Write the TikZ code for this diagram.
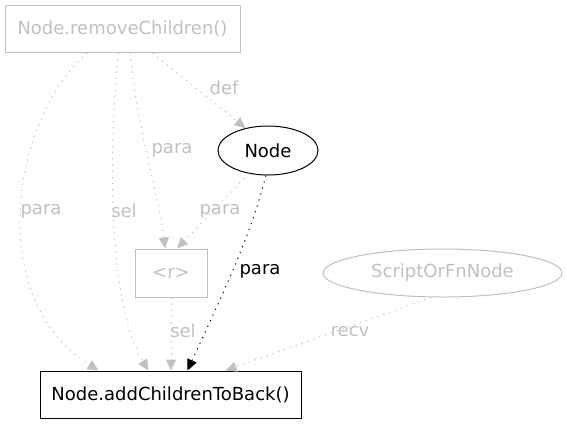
\documentclass[tikz,border=0pt]{standalone}
\usepackage{fontspec}
\setmainfont{DejaVu Sans}
\usetikzlibrary{arrows.meta,shapes.geometric}
\definecolor{lg}{HTML}{C0C0C0}
\tikzset{
  x=1pt,y=-1pt,
  every node/.style={font=\fontsize{18}{20}\selectfont},
  graybox/.style={draw=lg,text=lg,rectangle,line width=1pt},
  blackbox/.style={draw=black,rectangle,line width=1pt},
  edg/.style={dash pattern=on 1.2pt off 5pt,line width=1pt,-{Triangle[length=11pt,width=10pt]}},
  gedge/.style={edg,draw=lg},
  bedge/.style={edg,draw=black},
  glab/.style={text=lg,inner sep=1pt},
  blab/.style={text=black,inner sep=1pt}
}
\begin{document}
\begin{tikzpicture}
\useasboundingbox (0,0) rectangle (567,424);
\node[graybox,minimum width=235,minimum height=47] (rc) at (122.5,29) {Node.removeChildren()};
\node[draw=black,ellipse,line width=1pt,minimum width=100,minimum height=49,inner sep=0pt] (nd) at (268,150.5) {Node};
\node[graybox,minimum width=72,minimum height=48] (r) at (171,273) {<r>};
\node[blackbox,minimum width=261,minimum height=47] (ac) at (170.5,394.5) {Node.addChildrenToBack()};
\node[draw=lg,text=lg,ellipse,line width=1pt,minimum width=239,minimum height=48,inner sep=0pt] (sf) at (442.5,273) {ScriptOrFnNode};
% edges
\draw[gedge] ([xshift=30]rc.south) -- (nd.135);
\node[glab] (l1) at (224,88) {def};
\draw[gedge] ([xshift=8]rc.south) .. controls (135,120) and (160,200) .. ([xshift=-6]r.north);
\node[glab] (l2) at (172,150) {para};
\draw[gedge] ([xshift=-35]rc.south) .. controls (10,120) and (-15,300) .. ([xshift=-72]ac.north);
\node[glab] (l3) at (41,211) {para};
\draw[gedge] ([xshift=-4]rc.south) .. controls (110,130) and (105,300) .. ([xshift=-22]ac.north);
\node[glab] (l4) at (124,211) {sel};
\draw[gedge] (nd.-130) -- ([xshift=6]r.north);
\node[glab] (l5) at (220,211) {para};
\draw[bedge] (nd.-95) .. controls (250,240) and (215,310) .. ([xshift=17]ac.north);
\node[blab] (l6) at (260,271) {para};
\draw[gedge] (r.south) -- (ac.north-|r.south);
\node[glab] (l7) at (183,331) {sel};
\draw[gedge] (sf.-115) -- ([xshift=55]ac.north);
\node[glab] (l8) at (350,332) {recv};
\end{tikzpicture}
\end{document}
